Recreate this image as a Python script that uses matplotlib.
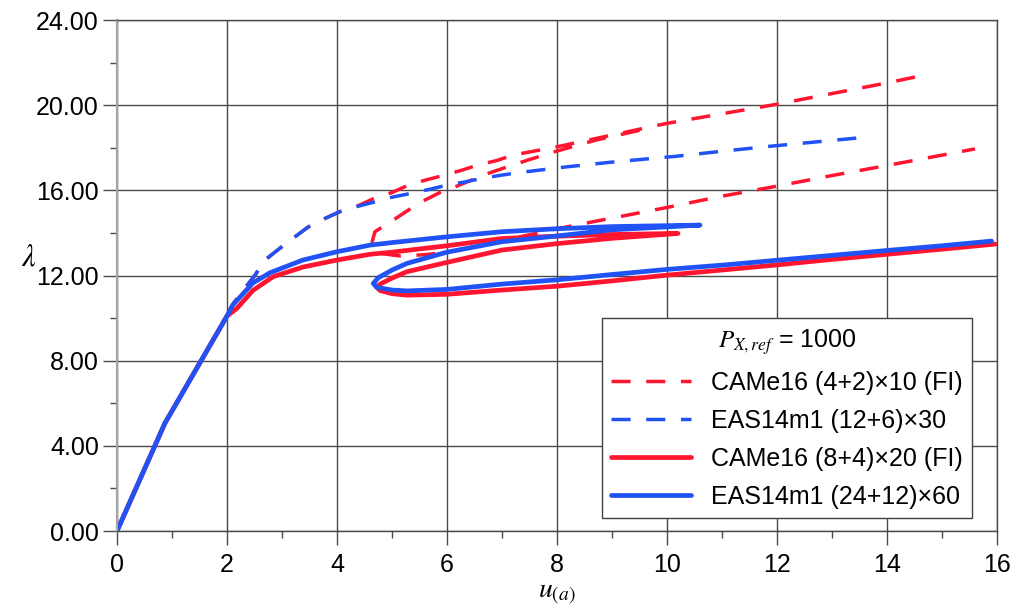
import numpy as np
import matplotlib
matplotlib.use("Agg")
import matplotlib.pyplot as plt
import matplotlib.ticker as mtick

plt.rcParams['font.family'] = ['Liberation Sans', 'DejaVu Sans']
plt.rcParams['mathtext.fontset'] = 'stix'

# CAMe16 (4+2)x10 (FI) - dashed, two branches split by nan
u_came_coarse = [0, 0.87, 2.0, 2.12, 2.3, 2.51, 2.69, 2.96, 3.2, 3.48, 3.78, 4.05, 4.36,
                 4.65, 5.0, 5.3, 5.63, 5.93, 6.27, 6.57, 6.9, 7.2, 8.0, 9.0, 10.0, 11.0,
                 12.0, 13.0, 14.0, 14.65,
                 np.nan,
                 9.5, 8.7, 8.0, 7.5, 7.09, 6.75, 6.48, 6.15, 5.87, 5.54, 5.3, 5.0, 4.69,
                 4.63, 4.78, 5.15, 5.6, 6.0, 6.5, 7.0, 7.4, 8.0, 8.5, 9.0, 9.5, 10.0,
                 11.0, 12.0, 13.0, 14.0, 15.6]
lam_came_coarse = [0, 5.06, 10.1, 10.7, 11.32, 12.02, 12.73, 13.28, 13.75, 14.29, 14.68, 15.0, 15.25,
                   15.6, 15.9, 16.25, 16.5, 16.7, 16.95, 17.2, 17.4, 17.66, 18.05, 18.6, 19.15, 19.6,
                   20.05, 20.55, 21.05, 21.4,
                   np.nan,
                   18.82, 18.36, 17.85, 17.45, 17.1, 16.8, 16.52, 16.17, 15.9, 15.47, 15.08, 14.57, 14.06,
                   13.5, 13.04, 12.92, 12.98, 13.1, 13.35, 13.65, 13.86, 14.2, 14.45, 14.7, 14.95, 15.2,
                   15.73, 16.2, 16.7, 17.17, 17.95]

# EAS14m1 (12+6)x30 - dashed
u_eas_coarse = [0, 0.87, 2.0, 2.12, 2.3, 2.51, 2.69, 2.96, 3.2, 3.48, 3.78, 4.05, 4.36, 4.7,
                5.0, 5.36, 5.7, 6.0, 6.33, 6.66, 7.0, 7.29, 8.15, 9.0, 10.15, 11.0, 11.9, 13.62]
lam_eas_coarse = [0, 5.06, 10.1, 10.7, 11.32, 12.02, 12.73, 13.28, 13.75, 14.29, 14.68, 15.0, 15.24, 15.47,
                  15.68, 15.87, 16.06, 16.25, 16.4, 16.58, 16.72, 16.83, 17.1, 17.33, 17.6, 17.84, 18.08, 18.5]

# CAMe16 (8+4)x20 (FI) - solid
u_came_fine = [0, 0.87, 2.0, 2.18, 2.47, 2.84, 3.38, 4.0, 4.6, 5.0, 6.0, 7.0, 8.0, 9.0, 10.2,
               9.0, 8.0, 7.0, 6.0, 5.27, 5.0, 4.8, 4.72, 4.78, 5.0, 5.27, 6.0, 7.0, 8.0, 9.0,
               10.0, 11.0, 12.0, 13.0, 14.0, 15.0, 15.97]
lam_came_fine = [0, 5.06, 10.1, 10.46, 11.3, 11.95, 12.4, 12.73, 13.0, 13.1, 13.4, 13.74, 13.85, 13.93, 13.98,
                 13.75, 13.5, 13.2, 12.62, 12.18, 11.88, 11.62, 11.47, 11.3, 11.15, 11.08, 11.12, 11.32, 11.5, 11.75,
                 12.02, 12.26, 12.5, 12.76, 13.0, 13.24, 13.48]

# EAS14m1 (24+12)x60 - solid
u_eas_fine = [0, 0.87, 2.0, 2.1, 2.47, 2.78, 3.38, 4.0, 4.6, 5.0, 6.0, 7.0, 8.0, 9.0, 10.6,
              9.0, 8.0, 7.0, 6.0, 5.27, 5.0, 4.75, 4.66, 4.72, 5.0, 5.27, 6.0, 7.0, 8.0, 9.0,
              10.0, 11.0, 12.0, 13.0, 14.0, 15.0, 15.9]
lam_eas_fine = [0, 5.06, 10.1, 10.6, 11.65, 12.13, 12.73, 13.12, 13.43, 13.55, 13.82, 14.06, 14.2, 14.3, 14.37,
                14.15, 13.86, 13.59, 13.1, 12.57, 12.26, 11.9, 11.63, 11.45, 11.32, 11.28, 11.35, 11.6, 11.8, 12.05,
                12.29, 12.49, 12.72, 12.95, 13.18, 13.4, 13.62]

labels = ["CAMe16 (4+2)×10 (FI)", "EAS14m1 (12+6)×30",
          "CAMe16 (8+4)×20 (FI)", "EAS14m1 (24+12)×60"]
legend_title = r"$P_{X,ref}$ = 1000"

RED = "#ff1530"
BLUE = "#2052f5"
GRID = "#4a4a4a"

fig = plt.figure(figsize=(10.12, 6.09), dpi=100)
ax = fig.add_axes([0.1156, 0.128, 0.8696, 0.839])

series = [
    (u_came_coarse, lam_came_coarse, RED, "--"),
    (u_eas_coarse, lam_eas_coarse, BLUE, "--"),
    (u_came_fine, lam_came_fine, RED, "-"),
    (u_eas_fine, lam_eas_fine, BLUE, "-"),
]
handles = []
for (u, lam, c, ls), lab in zip(series, labels):
    if ls == "--":
        ln, = ax.plot(u, lam, color=c, lw=2.5, dashes=(5.5, 4.5), label=lab)
    else:
        ln, = ax.plot(u, lam, color=c, lw=3.4, solid_joinstyle="round",
                      solid_capstyle="round", label=lab)
    handles.append(ln)

ax.set_xlim(0, 16)
ax.set_ylim(0, 24)
ax.xaxis.set_major_locator(mtick.MultipleLocator(2))
ax.xaxis.set_minor_locator(mtick.MultipleLocator(1))
ax.yaxis.set_major_locator(mtick.MultipleLocator(4))
ax.yaxis.set_minor_locator(mtick.MultipleLocator(2))
ax.yaxis.set_major_formatter(mtick.FormatStrFormatter('%.2f'))
ax.xaxis.set_major_formatter(mtick.FormatStrFormatter('%d'))

ax.grid(which="major", color=GRID, linewidth=1.0)
ax.set_axisbelow(True)
ax.tick_params(which="major", direction="out", length=10, width=1.0, color=GRID,
               labelsize=18, pad=3)
ax.tick_params(axis="x", which="major", pad=6)
ax.tick_params(which="minor", direction="out", length=5, width=1.0, color=GRID)
for side in ["top", "right", "bottom"]:
    ax.spines[side].set_color(GRID)
    ax.spines[side].set_linewidth(1.0)
ax.spines["left"].set_color("#a5a5a5")
ax.spines["left"].set_linewidth(1.6)

ax.set_xlabel(r"$u_{(a)}$", fontsize=20)
ax.xaxis.set_label_coords(0.5, -0.098)
ax.set_ylabel(r"$\lambda$", fontsize=22, rotation=0, ha="center", va="center")
ax.yaxis.set_label_coords(-0.1, 0.535)

leg = ax.legend(handles=handles, labels=labels, title=legend_title,
                loc="lower right", bbox_to_anchor=(0.9716, 0.0254),
                borderaxespad=0, fontsize=18, title_fontsize=18,
                handlelength=3.2, handletextpad=0.8, labelspacing=0.56,
                borderpad=0.36, fancybox=False, framealpha=1)
leg.get_frame().set_edgecolor("#404040")
leg.get_frame().set_linewidth(1.0)

fig.savefig("out.png", dpi=100, facecolor="white")
